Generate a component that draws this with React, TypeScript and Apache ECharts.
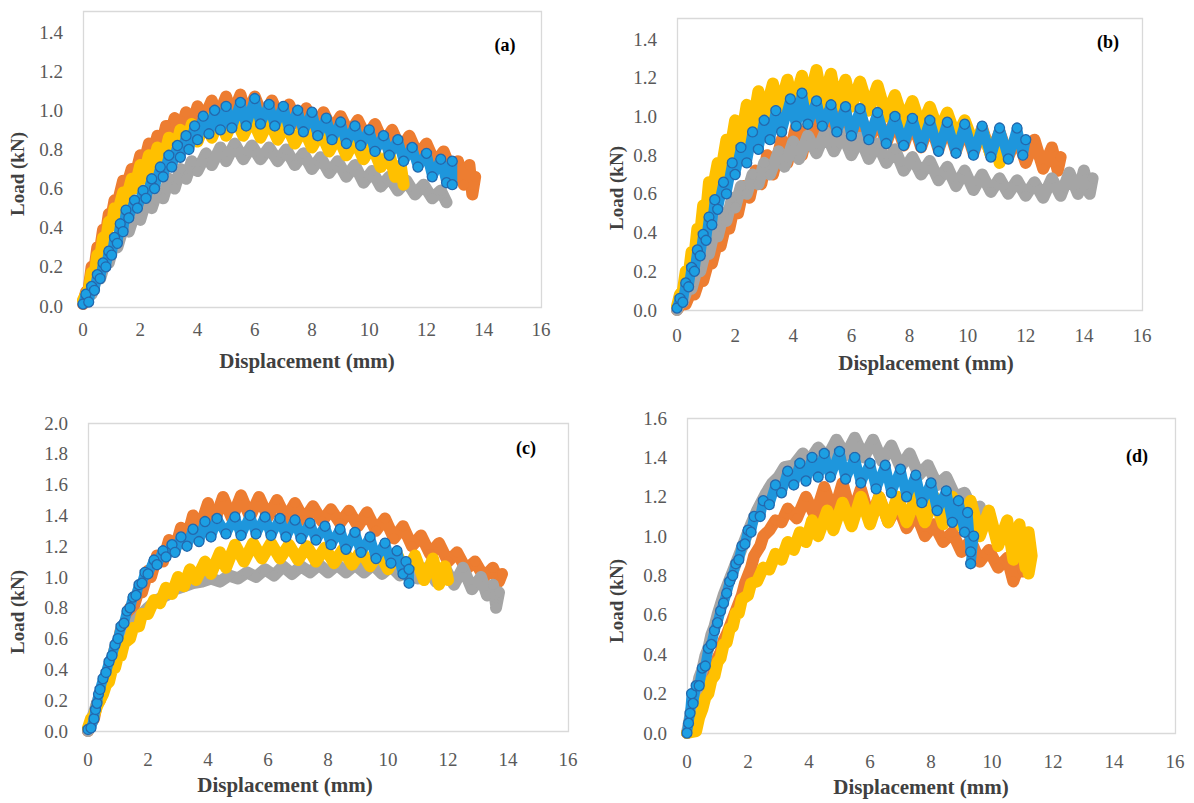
import React, { useEffect, useRef } from "react";
import * as echarts from "echarts";

// ---------- text ----------
const panelLabels = ["(a)", "(b)", "(c)", "(d)"];
const xTitle = "Displacement (mm)";
const yTitle = "Load (kN)";
const xMax = 16;
const xInterval = 2;
const yMaxes = [1.4, 1.4, 2.0, 1.6];
const yInterval = 0.2;

// ---------- data : [displacement (mm), load (kN)] ----------
const aOrange = [[0,0.01],[0.1,0.07],[0.2,0.09],[0.3,0.2],[0.4,0.19],[0.5,0.3],[0.6,0.29],[0.7,0.39],[0.8,0.37],[0.9,0.47],[1.0,0.46],[1.1,0.54],[1.2,0.52],[1.4,0.64],[1.5,0.6],[1.7,0.7],[1.8,0.65],[2.0,0.77],[2.1,0.71],[2.3,0.83],[2.4,0.76],[2.6,0.87],[2.7,0.8],[2.9,0.92],[3.0,0.85],[3.2,0.96],[3.4,0.89],[3.6,0.99],[3.8,0.92],[4.0,1.02],[4.2,0.95],[4.5,1.05],[4.7,0.96],[5.0,1.07],[5.2,0.97],[5.5,1.08],[5.7,0.97],[6.0,1.07],[6.3,0.96],[6.6,1.05],[6.9,0.95],[7.2,1.03],[7.5,0.93],[7.8,1.01],[8.1,0.91],[8.4,0.99],[8.7,0.9],[9.0,0.97],[9.3,0.88],[9.6,0.95],[9.9,0.86],[10.2,0.93],[10.5,0.83],[10.8,0.9],[11.1,0.8],[11.4,0.87],[11.7,0.77],[12.0,0.83],[12.3,0.73],[12.6,0.79],[12.9,0.68],[13.1,0.74],[13.3,0.62],[13.5,0.72],[13.6,0.57],[13.7,0.66]];
const aGray = [[0,0.02],[0.2,0.08],[0.3,0.06],[0.5,0.16],[0.6,0.14],[0.8,0.24],[0.9,0.22],[1.1,0.33],[1.2,0.3],[1.4,0.4],[1.6,0.38],[1.8,0.47],[2.0,0.44],[2.2,0.54],[2.4,0.5],[2.6,0.59],[2.8,0.55],[3.0,0.65],[3.2,0.6],[3.4,0.7],[3.6,0.65],[3.8,0.74],[4.0,0.69],[4.3,0.78],[4.5,0.72],[4.8,0.81],[5.0,0.74],[5.3,0.83],[5.6,0.75],[5.9,0.82],[6.2,0.75],[6.5,0.81],[6.8,0.74],[7.1,0.8],[7.4,0.72],[7.7,0.78],[8.0,0.7],[8.3,0.76],[8.6,0.68],[8.9,0.74],[9.2,0.66],[9.5,0.72],[9.8,0.63],[10.1,0.69],[10.4,0.61],[10.7,0.66],[11.0,0.59],[11.3,0.64],[11.6,0.57],[11.9,0.62],[12.2,0.55],[12.5,0.59],[12.7,0.53]];
const aYellow = [[0,0.03],[0.1,0.06],[0.2,0.08],[0.3,0.17],[0.4,0.16],[0.5,0.26],[0.6,0.25],[0.7,0.35],[0.8,0.33],[0.9,0.43],[1.0,0.41],[1.1,0.5],[1.2,0.47],[1.4,0.58],[1.5,0.54],[1.7,0.65],[1.8,0.6],[2.0,0.72],[2.1,0.65],[2.3,0.77],[2.4,0.7],[2.6,0.81],[2.8,0.74],[3.0,0.86],[3.2,0.78],[3.4,0.9],[3.6,0.82],[3.8,0.93],[4.0,0.84],[4.3,0.96],[4.5,0.86],[4.8,0.97],[5.0,0.87],[5.3,0.97],[5.6,0.87],[5.9,0.96],[6.2,0.86],[6.5,0.95],[6.8,0.85],[7.1,0.93],[7.4,0.83],[7.7,0.91],[8.0,0.81],[8.3,0.89],[8.6,0.79],[8.9,0.87],[9.2,0.77],[9.5,0.85],[9.8,0.75],[10.1,0.82],[10.4,0.71],[10.7,0.78],[10.9,0.66],[11.1,0.72],[11.2,0.62]];
const aBlue = [[0,0.01],[0.1,0.06],[0.2,0.02],[0.3,0.1],[0.4,0.08],[0.5,0.16],[0.6,0.14],[0.7,0.22],[0.8,0.2],[0.9,0.28],[1.0,0.26],[1.1,0.35],[1.2,0.32],[1.3,0.42],[1.4,0.38],[1.5,0.49],[1.6,0.45],[1.8,0.54],[1.9,0.5],[2.1,0.59],[2.2,0.55],[2.4,0.65],[2.5,0.6],[2.7,0.71],[2.8,0.66],[3.0,0.77],[3.1,0.71],[3.3,0.82],[3.4,0.76],[3.6,0.87],[3.7,0.8],[3.9,0.92],[4.0,0.85],[4.2,0.97],[4.4,0.88],[4.6,1.0],[4.8,0.9],[5.0,1.02],[5.2,0.91],[5.5,1.04],[5.7,0.92],[6.0,1.06],[6.2,0.93],[6.5,1.03],[6.7,0.92],[7.0,1.02],[7.2,0.9],[7.5,1.0],[7.7,0.89],[8.0,0.99],[8.2,0.87],[8.5,0.96],[8.7,0.85],[9.0,0.94],[9.2,0.83],[9.5,0.92],[9.7,0.82],[10.0,0.9],[10.2,0.79],[10.5,0.87],[10.7,0.77],[11.0,0.85],[11.2,0.74],[11.5,0.81],[11.7,0.71],[12.0,0.78],[12.2,0.66],[12.5,0.75],[12.7,0.63],[12.9,0.74],[12.9,0.62]];

const bOrange = [[0,0.0],[0.2,0.04],[0.3,0.03],[0.5,0.1],[0.6,0.08],[0.8,0.17],[0.9,0.15],[1.1,0.26],[1.2,0.24],[1.4,0.36],[1.5,0.33],[1.7,0.46],[1.8,0.42],[2.0,0.56],[2.1,0.5],[2.3,0.64],[2.5,0.58],[2.7,0.72],[2.9,0.65],[3.1,0.8],[3.3,0.7],[3.6,0.88],[3.8,0.76],[4.1,0.95],[4.3,0.8],[4.6,1.0],[4.8,0.84],[5.1,1.02],[5.4,0.86],[5.7,1.02],[6.0,0.87],[6.3,1.01],[6.6,0.87],[6.9,1.0],[7.2,0.86],[7.5,0.99],[7.8,0.85],[8.1,0.98],[8.4,0.84],[8.7,0.97],[9.0,0.83],[9.3,0.96],[9.6,0.82],[9.9,0.95],[10.2,0.81],[10.5,0.94],[10.8,0.8],[11.1,0.92],[11.4,0.79],[11.7,0.9],[12.0,0.76],[12.3,0.88],[12.6,0.73],[12.9,0.84],[13.1,0.72],[13.2,0.79]];
const bGray = [[0,0.0],[0.1,0.05],[0.2,0.04],[0.4,0.13],[0.5,0.11],[0.7,0.22],[0.8,0.2],[1.0,0.32],[1.1,0.29],[1.3,0.42],[1.4,0.38],[1.6,0.5],[1.7,0.46],[1.9,0.58],[2.0,0.53],[2.2,0.64],[2.4,0.6],[2.6,0.7],[2.8,0.65],[3.0,0.76],[3.2,0.7],[3.5,0.82],[3.7,0.74],[4.0,0.87],[4.2,0.78],[4.5,0.9],[4.8,0.81],[5.1,0.92],[5.4,0.82],[5.7,0.91],[6.0,0.8],[6.3,0.89],[6.6,0.78],[6.9,0.86],[7.2,0.76],[7.5,0.83],[7.8,0.72],[8.1,0.79],[8.4,0.7],[8.7,0.77],[9.0,0.67],[9.3,0.74],[9.6,0.64],[9.9,0.72],[10.2,0.62],[10.5,0.7],[10.8,0.61],[11.1,0.68],[11.4,0.6],[11.7,0.67],[12.0,0.59],[12.3,0.66],[12.6,0.58],[12.9,0.68],[13.2,0.59],[13.5,0.71],[13.8,0.6],[14.0,0.72],[14.2,0.6],[14.3,0.68]];
const bYellow = [[0,0.02],[0.1,0.08],[0.2,0.1],[0.3,0.2],[0.4,0.18],[0.5,0.3],[0.6,0.28],[0.7,0.42],[0.8,0.4],[0.9,0.54],[1.0,0.5],[1.1,0.66],[1.2,0.6],[1.4,0.76],[1.5,0.7],[1.7,0.88],[1.8,0.8],[2.0,0.98],[2.2,0.88],[2.4,1.06],[2.6,0.95],[2.8,1.13],[3.0,1.0],[3.3,1.17],[3.5,1.03],[3.8,1.19],[4.0,1.05],[4.3,1.21],[4.5,1.06],[4.8,1.24],[5.0,1.07],[5.3,1.22],[5.5,1.06],[5.8,1.19],[6.0,1.05],[6.3,1.18],[6.6,1.03],[6.9,1.16],[7.2,1.0],[7.5,1.11],[7.8,0.97],[8.1,1.08],[8.4,0.94],[8.7,1.05],[9.0,0.92],[9.3,1.02],[9.6,0.89],[9.9,0.98],[10.2,0.86],[10.5,0.93],[10.8,0.8],[11.0,0.86],[11.1,0.76]];
const bBlue = [[0,0.01],[0.1,0.06],[0.2,0.04],[0.3,0.14],[0.4,0.12],[0.5,0.22],[0.6,0.2],[0.7,0.31],[0.8,0.28],[0.9,0.39],[1.0,0.36],[1.1,0.48],[1.2,0.44],[1.3,0.57],[1.4,0.52],[1.6,0.66],[1.7,0.6],[1.9,0.76],[2.0,0.7],[2.2,0.84],[2.4,0.76],[2.6,0.92],[2.8,0.83],[3.0,0.98],[3.2,0.88],[3.4,1.03],[3.6,0.92],[3.9,1.09],[4.1,0.95],[4.3,1.12],[4.5,0.96],[4.8,1.08],[5.0,0.95],[5.3,1.06],[5.5,0.92],[5.8,1.05],[6.0,0.9],[6.3,1.04],[6.6,0.88],[6.9,1.02],[7.2,0.86],[7.5,1.0],[7.8,0.85],[8.1,0.99],[8.4,0.84],[8.7,0.98],[9.0,0.82],[9.3,0.97],[9.6,0.81],[9.9,0.96],[10.2,0.8],[10.5,0.95],[10.8,0.79],[11.1,0.94],[11.4,0.78],[11.7,0.94],[11.9,0.8],[12.0,0.88]];

const cOrange = [[0,0.0],[0.1,0.05],[0.2,0.08],[0.3,0.18],[0.4,0.2],[0.5,0.3],[0.6,0.33],[0.7,0.42],[0.8,0.45],[0.9,0.54],[1.0,0.57],[1.1,0.66],[1.2,0.67],[1.4,0.8],[1.5,0.79],[1.7,0.92],[1.8,0.9],[2.0,1.04],[2.1,1.0],[2.3,1.14],[2.5,1.1],[2.7,1.24],[2.9,1.18],[3.1,1.32],[3.3,1.25],[3.5,1.4],[3.7,1.3],[4.0,1.48],[4.2,1.35],[4.5,1.52],[4.8,1.38],[5.1,1.53],[5.4,1.39],[5.7,1.52],[6.0,1.39],[6.3,1.5],[6.6,1.38],[6.9,1.48],[7.2,1.37],[7.5,1.46],[7.8,1.36],[8.1,1.44],[8.4,1.35],[8.7,1.43],[9.0,1.33],[9.3,1.42],[9.6,1.3],[9.9,1.38],[10.2,1.25],[10.5,1.33],[10.8,1.2],[11.1,1.27],[11.4,1.15],[11.7,1.22],[12.0,1.1],[12.3,1.16],[12.6,1.05],[12.9,1.1],[13.2,1.0],[13.5,1.06],[13.7,0.97],[13.8,1.02]];
const cGray = [[0,0.0],[0.1,0.06],[0.2,0.12],[0.3,0.18],[0.4,0.24],[0.5,0.3],[0.6,0.36],[0.7,0.41],[0.8,0.46],[0.9,0.5],[1.0,0.54],[1.2,0.6],[1.4,0.66],[1.6,0.72],[1.8,0.76],[2.0,0.8],[2.3,0.85],[2.6,0.88],[2.9,0.92],[3.2,0.94],[3.5,0.96],[3.8,0.97],[4.1,0.99],[4.4,0.97],[4.7,1.01],[5.0,0.99],[5.3,1.03],[5.6,1.0],[5.9,1.05],[6.2,1.01],[6.5,1.07],[6.8,1.02],[7.1,1.07],[7.4,1.03],[7.7,1.08],[8.0,1.03],[8.3,1.08],[8.6,1.03],[8.9,1.08],[9.2,1.03],[9.5,1.08],[9.8,1.02],[10.1,1.07],[10.4,1.01],[10.7,1.06],[11.0,0.99],[11.3,1.06],[11.6,0.97],[11.9,1.06],[12.2,0.95],[12.5,1.06],[12.8,0.92],[13.1,1.0],[13.3,0.88],[13.5,0.95],[13.6,0.82],[13.7,0.9],[13.6,0.8]];
const cYellow = [[0,0.02],[0.1,0.08],[0.2,0.1],[0.3,0.16],[0.4,0.2],[0.5,0.24],[0.6,0.3],[0.7,0.32],[0.8,0.4],[0.9,0.41],[1.0,0.49],[1.1,0.49],[1.2,0.57],[1.4,0.6],[1.5,0.67],[1.7,0.68],[1.8,0.76],[2.0,0.76],[2.2,0.85],[2.4,0.83],[2.6,0.93],[2.8,0.89],[3.0,1.0],[3.2,0.94],[3.4,1.05],[3.6,0.98],[3.9,1.1],[4.1,1.02],[4.4,1.16],[4.6,1.06],[4.9,1.21],[5.2,1.1],[5.5,1.22],[5.8,1.12],[6.1,1.22],[6.4,1.12],[6.7,1.21],[7.0,1.11],[7.3,1.2],[7.6,1.1],[7.9,1.19],[8.2,1.09],[8.5,1.18],[8.8,1.08],[9.1,1.17],[9.4,1.07],[9.7,1.16],[10.0,1.05],[10.3,1.15],[10.6,1.02],[10.9,1.14],[11.2,0.98],[11.5,1.12],[11.7,0.95],[11.9,1.07],[12.0,0.98]];
const cBlue = [[0,0.01],[0.1,0.02],[0.2,0.08],[0.25,0.14],[0.3,0.18],[0.35,0.24],[0.4,0.27],[0.5,0.34],[0.6,0.38],[0.7,0.45],[0.8,0.49],[0.9,0.56],[1.0,0.6],[1.1,0.68],[1.2,0.7],[1.3,0.78],[1.4,0.8],[1.5,0.87],[1.6,0.88],[1.7,0.95],[1.8,0.96],[1.9,1.03],[2.0,1.02],[2.2,1.11],[2.3,1.08],[2.5,1.17],[2.6,1.13],[2.8,1.21],[2.9,1.16],[3.1,1.26],[3.3,1.2],[3.5,1.31],[3.7,1.23],[3.9,1.36],[4.1,1.26],[4.3,1.38],[4.6,1.28],[4.9,1.39],[5.1,1.27],[5.4,1.4],[5.6,1.28],[5.9,1.39],[6.1,1.27],[6.4,1.38],[6.6,1.26],[6.9,1.37],[7.1,1.25],[7.4,1.35],[7.6,1.24],[7.9,1.33],[8.1,1.21],[8.4,1.31],[8.6,1.18],[8.9,1.29],[9.1,1.16],[9.4,1.26],[9.6,1.12],[9.9,1.22],[10.1,1.09],[10.3,1.17],[10.5,1.02],[10.6,1.1],[10.7,0.96],[10.7,1.05]];

const dOrange = [[0,0.0],[0.2,0.02],[0.3,0.06],[0.4,0.12],[0.5,0.15],[0.6,0.22],[0.7,0.24],[0.8,0.3],[0.9,0.32],[1.0,0.38],[1.1,0.41],[1.2,0.47],[1.3,0.5],[1.5,0.58],[1.6,0.62],[1.8,0.7],[1.9,0.76],[2.1,0.84],[2.2,0.9],[2.4,0.95],[2.5,1.0],[2.7,1.03],[2.9,1.08],[3.1,1.07],[3.3,1.14],[3.6,1.09],[3.9,1.2],[4.2,1.1],[4.5,1.25],[4.8,1.11],[5.1,1.27],[5.4,1.1],[5.7,1.24],[6.0,1.08],[6.3,1.2],[6.6,1.07],[6.9,1.16],[7.2,1.04],[7.5,1.12],[7.8,1.0],[8.1,1.06],[8.4,0.97],[8.7,1.02],[9.0,0.92],[9.3,0.98],[9.6,0.87],[9.9,0.93],[10.2,0.84],[10.5,0.89],[10.7,0.77],[10.9,0.86],[11.0,0.82]];
const dGray = [[0,0.0],[0.1,0.08],[0.2,0.16],[0.3,0.2],[0.4,0.28],[0.5,0.32],[0.6,0.39],[0.7,0.43],[0.8,0.5],[0.9,0.54],[1.0,0.6],[1.1,0.65],[1.2,0.7],[1.4,0.78],[1.5,0.82],[1.7,0.9],[1.8,0.94],[2.0,1.02],[2.1,1.06],[2.3,1.13],[2.4,1.16],[2.6,1.22],[2.8,1.27],[3.0,1.3],[3.2,1.35],[3.5,1.36],[3.8,1.42],[4.0,1.38],[4.3,1.45],[4.6,1.4],[4.9,1.49],[5.2,1.41],[5.5,1.5],[5.8,1.4],[6.1,1.49],[6.4,1.38],[6.7,1.46],[7.0,1.35],[7.3,1.42],[7.6,1.31],[7.9,1.36],[8.2,1.26],[8.5,1.3],[8.8,1.2],[9.1,1.22],[9.4,1.12],[9.6,1.15],[9.7,1.08]];
const dYellow = [[0,0.0],[0.3,0.01],[0.4,0.08],[0.5,0.12],[0.6,0.18],[0.7,0.2],[0.8,0.27],[0.9,0.29],[1.0,0.36],[1.1,0.38],[1.2,0.45],[1.3,0.46],[1.4,0.53],[1.5,0.54],[1.6,0.61],[1.7,0.61],[1.8,0.68],[2.0,0.7],[2.1,0.76],[2.3,0.77],[2.5,0.84],[2.7,0.83],[2.9,0.91],[3.1,0.88],[3.3,0.97],[3.5,0.93],[3.7,1.02],[3.9,0.97],[4.1,1.08],[4.3,1.0],[4.6,1.13],[4.8,1.03],[5.1,1.17],[5.4,1.05],[5.7,1.2],[6.0,1.06],[6.3,1.2],[6.6,1.07],[6.9,1.2],[7.2,1.07],[7.5,1.2],[7.8,1.07],[8.1,1.2],[8.4,1.06],[8.7,1.2],[9.0,1.05],[9.3,1.18],[9.6,1.0],[9.9,1.13],[10.2,0.95],[10.5,1.08],[10.7,0.88],[10.9,1.06],[11.1,0.84],[11.2,1.02],[11.3,0.9],[11.2,0.81]];
const dBlue = [[0,0.0],[0.05,0.05],[0.1,0.1],[0.15,0.2],[0.2,0.15],[0.3,0.24],[0.4,0.24],[0.5,0.33],[0.6,0.34],[0.7,0.43],[0.8,0.45],[0.9,0.52],[1.0,0.56],[1.1,0.62],[1.2,0.66],[1.3,0.71],[1.4,0.77],[1.5,0.8],[1.6,0.86],[1.7,0.88],[1.8,0.95],[1.9,0.96],[2.0,1.03],[2.1,1.02],[2.2,1.1],[2.4,1.1],[2.5,1.18],[2.7,1.16],[2.9,1.26],[3.1,1.22],[3.3,1.33],[3.5,1.26],[3.7,1.37],[3.9,1.28],[4.1,1.4],[4.3,1.3],[4.5,1.42],[4.7,1.3],[5.0,1.43],[5.2,1.29],[5.5,1.4],[5.7,1.27],[6.0,1.37],[6.2,1.24],[6.5,1.36],[6.7,1.22],[7.0,1.34],[7.2,1.2],[7.5,1.31],[7.7,1.17],[8.0,1.27],[8.2,1.13],[8.5,1.23],[8.7,1.07],[8.9,1.18],[9.1,1.02],[9.2,1.12],[9.3,0.92],[9.4,1.0],[9.3,0.86]];

// ---------- layout / style ----------
const COLORS = { orange: "#ED7D31", gray: "#A5A5A5", yellow: "#FFC000", blue: "#1C9FE3", blueBorder: "#2468AD" };
const FONT = "'Liberation Serif', 'Times New Roman', serif";

const panels = [
  { data: [aOrange, aGray, aYellow, aBlue], grid: { left: 83, top: 32, width: 458, height: 274 }, box: [83, 11, 458, 296], xMargin: 14, label: [505, 45], xt: [307, 361], yt: [17, 174] },
  { data: [bOrange, bGray, bYellow, bBlue], grid: { left: 677, top: 39, width: 465, height: 271 }, box: [677, 18, 465, 292], xMargin: 16, label: [1108, 42], xt: [926, 363], yt: [616, 188] },
  { data: [cOrange, cGray, cYellow, cBlue], grid: { left: 88, top: 423, width: 480, height: 308 }, box: [88, 423, 480, 308], xMargin: 19, label: [526, 448], xt: [285, 785], yt: [17, 612] },
  { data: [dOrange, dGray, dYellow, dBlue], grid: { left: 687, top: 418, width: 488, height: 315 }, box: [687, 418, 488, 315], xMargin: 19, label: [1137, 456], xt: [921, 787], yt: [616, 601] },
];

export default function App() {
  const ref = useRef<HTMLDivElement>(null);
  useEffect(() => {
    document.body.style.margin = "0";
    const chart = echarts.init(ref.current!, null, { renderer: "svg" });
    const kinds = ["orange", "gray", "yellow", "blue"];
    const series: any[] = [];
    panels.forEach((p, i) => {
      p.data.forEach((d, k) => {
        const kind = kinds[k];
        const isBlue = kind === "blue";
        const col = (COLORS as any)[kind];
        series.push({
          type: "line",
          xAxisIndex: i,
          yAxisIndex: i,
          data: d,
          symbol: "circle",
          symbolSize: isBlue ? 10 : 10,
          showSymbol: true,
          showAllSymbol: true,
          silent: true,
          clip: true,
          lineStyle: { color: isBlue ? "#1E96DC" : col, width: isBlue ? 10 : 12, cap: "round", join: "round" },
          itemStyle: isBlue
            ? { color: COLORS.blue, borderColor: COLORS.blueBorder, borderWidth: 1.3, opacity: 1 }
            : { color: col, borderWidth: 0, opacity: 1 },
          emphasis: { disabled: true },
          z: 2 + k,
        });
      });
    });

    const graphic: any[] = [];
    panels.forEach((p, i) => {
      graphic.push({ type: "rect", shape: { x: p.box[0] + 0.5, y: p.box[1] + 0.5, width: p.box[2], height: p.box[3] }, style: { fill: "none", stroke: "#D9D9D9", lineWidth: 1.3 }, z: 1, silent: true });
      graphic.push({ type: "text", x: p.label[0], y: p.label[1], style: { text: panelLabels[i], font: `bold 18px ${FONT}`, fill: "#000", textAlign: "center", textVerticalAlign: "middle" }, z: 10 });
      graphic.push({ type: "text", x: p.xt[0], y: p.xt[1], style: { text: xTitle, font: `bold 21px ${FONT}`, fill: "#404040", textAlign: "center", textVerticalAlign: "middle" }, z: 10 });
      graphic.push({ type: "text", x: p.yt[0], y: p.yt[1], rotation: Math.PI / 2, style: { text: yTitle, font: `bold 19px ${FONT}`, fill: "#404040", textAlign: "center", textVerticalAlign: "middle" }, z: 10 });
    });

    chart.setOption({
      animation: false,
      backgroundColor: "#fff",
      grid: panels.map((p) => ({ ...p.grid, containLabel: false })),
      xAxis: panels.map((p, i) => ({
        type: "value",
        gridIndex: i,
        min: 0,
        max: xMax,
        interval: xInterval,
        axisLine: { show: false },
        axisTick: { show: false },
        splitLine: { show: false },
        axisLabel: { color: "#595959", fontFamily: FONT, fontSize: 19, margin: p.xMargin },
      })),
      yAxis: panels.map((p, i) => ({
        type: "value",
        gridIndex: i,
        min: 0,
        max: yMaxes[i],
        interval: yInterval,
        axisLine: { show: false },
        axisTick: { show: false },
        splitLine: { show: false },
        axisLabel: { color: "#595959", fontFamily: FONT, fontSize: 19, margin: 20, formatter: (v: number) => v.toFixed(1) },
      })),
      series,
      graphic,
    });
    return () => chart.dispose();
  }, []);
  return <div ref={ref} style={{ width: 1194, height: 803 }} />;
}
